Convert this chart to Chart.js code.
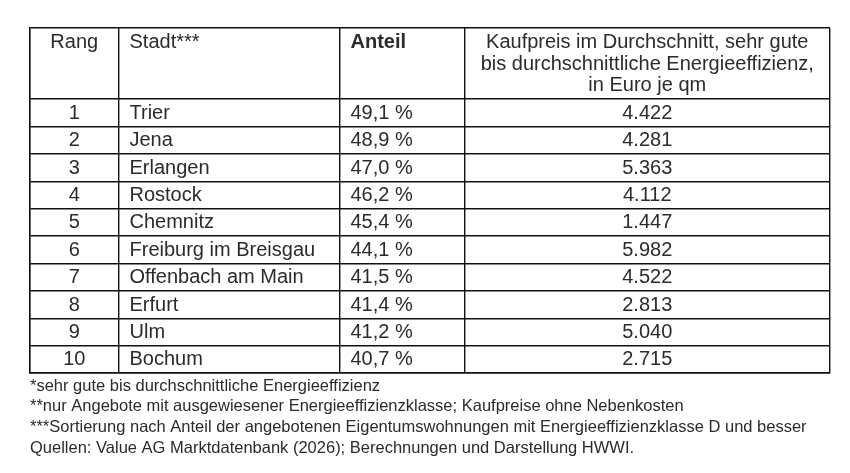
<!DOCTYPE html>
<html>
<head>
<meta charset="utf-8">
<script src="https://cdn.jsdelivr.net/npm/chart.js@4"></script>
<style>
  html, body { margin: 0; padding: 0; background: #ffffff; }
  #wrap { width: 850px; height: 473px; position: relative; }
</style>
</head>
<body>
<div id="wrap"><canvas id="c"></canvas></div>
<script>
// ---- data ----
const ranks = ['1', '2', '3', '4', '5', '6', '7', '8', '9', '10'];
const cities = ['Trier', 'Jena', 'Erlangen', 'Rostock', 'Chemnitz', 'Freiburg im Breisgau',
                'Offenbach am Main', 'Erfurt', 'Ulm', 'Bochum'];
const shares = [49.1, 48.9, 47.0, 46.2, 45.4, 44.1, 41.5, 41.4, 41.2, 40.7];
const prices = [4422, 4281, 5363, 4112, 1447, 5982, 4522, 2813, 5040, 2715];
const headers = ['Rang', 'Stadt***', 'Anteil',
  ['Kaufpreis im Durchschnitt, sehr gute', 'bis durchschnittliche Energieeffizienz,', 'in Euro je qm']];
const footnotes = [
  '*sehr gute bis durchschnittliche Energieeffizienz',
  '**nur Angebote mit ausgewiesener Energieeffizienzklasse; Kaufpreise ohne Nebenkosten',
  '***Sortierung nach Anteil der angebotenen Eigentumswohnungen mit Energieeffizienzklasse D und besser',
  'Quellen: Value AG Marktdatenbank (2026); Berechnungen und Darstellung HWWI.'
];

// ---- layout (not data) ----
const colEdges = [0, 88.5, 309.5, 434.5, 800];   // column boundaries on the x scale
const headerRows = 2.6;                           // header height in row units
const rowEdges = [-headerRows].concat(ranks.map((r, i) => i)).concat([ranks.length]);
const FONT = '"Liberation Sans", Arial, sans-serif';
const TEXT = '#2b2b2b';
const LINE = '#111111';

function fmtShare(v) { return v.toFixed(1).replace('.', ',') + ' %'; }
function fmtPrice(v) {
  const th = Math.floor(v / 1000), rest = v % 1000;
  return th > 0 ? th + '.' + String(rest).padStart(3, '0') : String(rest);
}

const cellColumns = [
  ranks,
  cities,
  shares.map(fmtShare),
  prices.map(fmtPrice)
];
const colAlign = ['center', 'left', 'left', 'center'];

const tableText = {
  id: 'tableText',
  afterDraw(chart) {
    const ctx = chart.ctx;
    const xs = chart.scales.x, ys = chart.scales.y;
    const pad = 11;
    const top = ys.getPixelForValue(-headerRows);
    ctx.save();
    ctx.fillStyle = TEXT;
    ctx.textBaseline = 'middle';
    // header
    headers.forEach((h, c) => {
      const l = xs.getPixelForValue(colEdges[c]);
      const r = xs.getPixelForValue(colEdges[c + 1]);
      const lines = Array.isArray(h) ? h : [h];
      ctx.font = (c === 2 ? 'bold ' : '') + '20px ' + FONT;
      ctx.textAlign = colAlign[c];
      const x = colAlign[c] === 'center' ? (l + r) / 2 : l + pad;
      lines.forEach((t, k) => ctx.fillText(t, x, top + 14.5 + k * 21.5));
    });
    // body
    ctx.font = '20px ' + FONT;
    cellColumns.forEach((vals, c) => {
      const l = xs.getPixelForValue(colEdges[c]);
      const r = xs.getPixelForValue(colEdges[c + 1]);
      ctx.textAlign = colAlign[c];
      const x = colAlign[c] === 'center' ? (l + r) / 2 : l + pad;
      vals.forEach((t, i) => {
        const y = ys.getPixelForValue(i + 0.5);
        ctx.fillText(t, x, y + 0.5);
      });
    });
    ctx.restore();
  }
};

new Chart(document.getElementById('c'), {
  type: 'scatter',
  data: { datasets: [{ data: [], pointRadius: 0 }] },
  options: {
    responsive: true,
    maintainAspectRatio: false,
    animation: false,
    events: [],
    layout: { padding: { left: 30, top: 28, right: 20, bottom: 14.5 } },
    plugins: {
      legend: { display: false },
      tooltip: { enabled: false },
      title: {
        display: true,
        position: 'bottom',
        align: 'start',
        text: footnotes,
        color: TEXT,
        font: { family: FONT, size: 16.5, weight: 'normal', lineHeight: 1.25 },
        padding: { top: 3, bottom: 0 }
      }
    },
    scales: {
      x: {
        type: 'linear',
        min: colEdges[0],
        max: colEdges[colEdges.length - 1],
        afterBuildTicks: (s) => { s.ticks = colEdges.map(v => ({ value: v })); },
        ticks: { display: false },
        grid: { display: true, color: LINE, lineWidth: 1.4, drawTicks: false },
        border: { display: true, color: LINE, width: 1.4 }
      },
      y: {
        type: 'linear',
        reverse: true,
        min: rowEdges[0],
        max: rowEdges[rowEdges.length - 1],
        afterBuildTicks: (s) => { s.ticks = rowEdges.map(v => ({ value: v })); },
        ticks: { display: false },
        grid: { display: true, color: LINE, lineWidth: 1.4, drawTicks: false },
        border: { display: true, color: LINE, width: 1.4 }
      }
    }
  },
  plugins: [tableText]
});
</script>
</body>
</html>
